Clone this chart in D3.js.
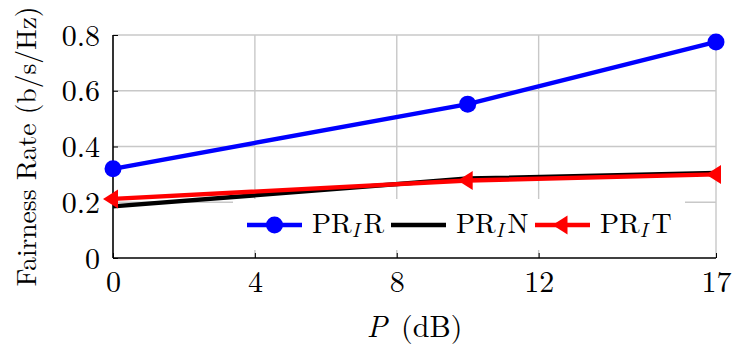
<!DOCTYPE html>
<html><head><meta charset="utf-8">
<script src="https://cdn.jsdelivr.net/npm/d3@7"></script>
<style>body{margin:0;background:#fff}svg{display:block}</style>
</head><body>
<svg id="c" width="747" height="354"></svg>
<script>
const xValues = [0, 10, 17];
const prirValues = [0.32, 0.552, 0.775];
const prinValues = [0.185, 0.285, 0.305];
const pritValues = [0.212, 0.278, 0.300];
const xTicks = [0, 4, 8, 12, 17];
const yTicks = [0, 0.2, 0.4, 0.6, 0.8];
const yTickLabels = ["0", "0.2", "0.4", "0.6", "0.8"];

(function () {
const FONT = '"Latin Modern Roman", "Liberation Serif", serif';
const svg = d3.select("#c");
const mLeft = 113, mRight = 716, mTop = 35, mBottom = 258;
const x = d3.scaleLinear().domain([0, 17]).range([mLeft, mRight]);
const y = d3.scaleLinear().domain([0, 0.8]).range([mBottom, mTop]);

// grid
const grid = svg.append("g").attr("stroke", "#c8c8c8").attr("stroke-width", 1.4);
xTicks.filter(d => d > 0).forEach(d => grid.append("line").attr("x1", x(d)).attr("x2", x(d)).attr("y1", y(0)).attr("y2", y(0.8)));
yTicks.filter(d => d > 0).forEach(d => grid.append("line").attr("x1", x(0)).attr("x2", x(17)).attr("y1", y(d)).attr("y2", y(d)));

// axes
const xAxis = d3.axisBottom(x).tickValues(xTicks).tickSize(-5).tickPadding(13).tickFormat(d3.format("d"));
const gx = svg.append("g").attr("transform", `translate(0,${mBottom})`).call(xAxis);
gx.select(".domain").attr("stroke", "#000").attr("stroke-width", 1.6).attr("d", `M${mLeft},0H${mRight}`);
gx.selectAll(".tick line").attr("stroke", "#000").attr("stroke-width", 1);
gx.selectAll(".tick text").style("font-family", FONT).style("font-size", "30px").attr("fill", "#000");

const yAxis = d3.axisLeft(y).tickValues(yTicks).tickSize(-5).tickPadding(13).tickFormat((d, i) => yTickLabels[i]);
const gy = svg.append("g").attr("transform", `translate(${mLeft},0)`).call(yAxis);
gy.select(".domain").attr("stroke", "#000").attr("stroke-width", 1.6).attr("d", `M0,${mBottom}V${mTop}`);
gy.selectAll(".tick line").attr("stroke", "#000").attr("stroke-width", 1);
gy.selectAll(".tick text").style("font-family", FONT).style("font-size", "30px").attr("fill", "#000").attr("dy", "0.34em");

// legend background
svg.append("rect").attr("x", 233).attr("y", 199).attr("width", 452).attr("height", 51).attr("fill", "#fff");

const line = d3.line().x((d, i) => x(xValues[i])).y(d => y(d));
const series = [
  {vals: prirValues, color: "#0000ff", marker: "circle"},
  {vals: prinValues, color: "#000000", marker: null},
  {vals: pritValues, color: "#ff0000", marker: "tri"}
];
const triPath = "M-10,0L5,-9.5L5,9.5Z";
series.forEach(s => {
  svg.append("path").attr("d", line(s.vals)).attr("fill", "none").attr("stroke", s.color).attr("stroke-width", 4.4);
  s.vals.forEach((v, i) => {
    if (s.marker === "circle") svg.append("circle").attr("cx", x(xValues[i])).attr("cy", y(v)).attr("r", 8.5).attr("fill", s.color);
    if (s.marker === "tri") svg.append("path").attr("d", triPath).attr("transform", `translate(${x(xValues[i])},${y(v)})`).attr("fill", s.color);
  });
});

// legend
const legend = [
  {label: "R", color: "#0000ff", marker: "circle", x0: 247},
  {label: "N", color: "#000000", marker: null, x0: 391},
  {label: "T", color: "#ff0000", marker: "tri", x0: 535}
];
const ly = 225;
legend.forEach(l => {
  svg.append("line").attr("x1", l.x0).attr("x2", l.x0 + 55).attr("y1", ly).attr("y2", ly).attr("stroke", l.color).attr("stroke-width", 4.4);
  if (l.marker === "circle") svg.append("circle").attr("cx", l.x0 + 27.5).attr("cy", ly).attr("r", 8.5).attr("fill", l.color);
  if (l.marker === "tri") svg.append("path").attr("d", triPath).attr("transform", `translate(${l.x0 + 27.5},${ly})`).attr("fill", l.color);
  const t = svg.append("text").attr("x", l.x0 + 65).attr("y", 233).style("font-family", FONT).style("font-size", "28px").attr("fill", "#000");
  t.append("tspan").text("PR");
  t.append("tspan").text("I").style("font-style", "italic").style("font-size", "20px").attr("dy", 4);
  t.append("tspan").text(l.label).attr("dy", -4).attr("dx", 4);
});

// axis labels
const xl = svg.append("text").attr("x", (mLeft + mRight) / 2).attr("y", 337).attr("text-anchor", "middle").style("font-family", FONT).style("font-size", "30px").attr("fill", "#000");
xl.append("tspan").text("P").style("font-style", "italic");
xl.append("tspan").text(" (dB)").attr("dx", 4);

svg.append("text").attr("transform", `translate(36,${(mTop + mBottom) / 2}) rotate(-90)`).attr("text-anchor", "middle").style("font-family", FONT).style("font-size", "27.5px").attr("fill", "#000").text("Fairness Rate (b/s/Hz)");
})();
</script>
</body></html>
